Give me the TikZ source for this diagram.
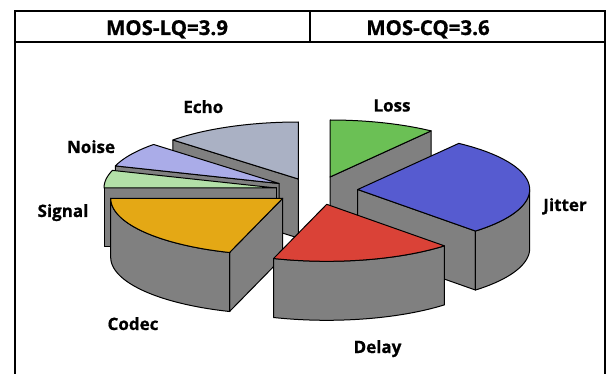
\documentclass[tikz,border=0pt]{standalone}
\usepackage{fontspec}
\setmainfont[BoldFeatures={FakeBold=0.8}]{Open Sans}
\definecolor{sidegray}{HTML}{808080}
\definecolor{cLoss}{HTML}{6BC055}
\definecolor{cJitter}{HTML}{565BD0}
\definecolor{cDelay}{HTML}{DA4237}
\definecolor{cCodec}{HTML}{E4A815}
\definecolor{cSignal}{HTML}{B3E0A8}
\definecolor{cNoise}{HTML}{AAACE8}
\definecolor{cEcho}{HTML}{AAB1C4}
% pie geometry: x radius, y radius, thickness (all in px)
\def\pieA{172}\def\pieB{57}\def\pieH{59}
% flat side face of a slice along the radius at angle #3 (clockwise from 12 o'clock)
\newcommand{\pieradial}[3]{%
  \filldraw[side] (#1,#2) -- ({#1+\pieA*sin(#3)},{#2-\pieB*cos(#3)})
    -- ({#1+\pieA*sin(#3)},{#2+\pieH-\pieB*cos(#3)}) -- (#1,#2+\pieH) -- cycle;}
% curved outer face between angles #3 and #4
\newcommand{\piecurved}[4]{%
  \filldraw[side] plot[domain=#3:#4,samples=40] ({#1+\pieA*sin(\x)},{#2-\pieB*cos(\x)})
    -- plot[domain=#4:#3,samples=40] ({#1+\pieA*sin(\x)},{#2+\pieH-\pieB*cos(\x)}) -- cycle;}
% coloured top of a slice
\newcommand{\pietop}[5]{%
  \filldraw[topface,fill=#5] (#1,#2) -- plot[domain=#3:#4,samples=40]
    ({#1+\pieA*sin(\x)},{#2-\pieB*cos(\x)}) -- cycle;}
\begin{document}
\begin{tikzpicture}[x=1pt,y=-1pt,
  side/.style={fill=sidegray,draw=black,line width=1pt,line join=round},
  topface/.style={draw=black,line width=1pt,line join=round},
  lbl/.style={font=\bfseries\fontsize{17}{17}\selectfont,anchor=base,inner sep=0pt},
  hdr/.style={font=\bfseries\fontsize{20.5}{20.5}\selectfont,anchor=base,inner sep=0pt},
  frameline/.style={line width=1.4pt}]
\useasboundingbox (0,0) rectangle (608,374);
\fill[white] (0,0) rectangle (608,374);

% table frame and header row
\draw[frameline] (15,374) -- (15,11) -- (605,11) -- (605,374);
\draw[line width=1.8pt] (15,42) -- (605,42);
\draw[frameline] (310,11) -- (310,42);
\node[hdr] (hdrLQ) at (167,35) {MOS-LQ=3.9};
\node[hdr] (hdrCQ) at (428,35) {MOS-CQ=3.6};

% exploded 3D pie, back slices first
% Loss 0-36
\pieradial{330}{177}{36}
\pietop{330}{177}{0}{36}{cLoss}
% Echo 313.2-360
\pieradial{298.3}{179}{313.2}
\pietop{298.3}{179}{313.2}{360}{cEcho}
% Noise 288-313.2
\pieradial{279}{183.5}{288}
\pietop{279}{183.5}{288}{313.2}{cNoise}
% Signal 270-288
\pieradial{276}{188}{270}
\pietop{276}{188}{270}{288}{cSignal}
% Jitter 36-136.8
\pieradial{357.7}{189.5}{136.8}
\piecurved{357.7}{189.5}{90}{136.8}
\pietop{357.7}{189.5}{36}{136.8}{cJitter}
% Codec 198-270
\pieradial{282.7}{198.3}{198}
\piecurved{282.7}{198.3}{198}{270}
\pietop{282.7}{198.3}{198}{270}{cCodec}
% Delay 136.8-198
\piecurved{326.7}{204.3}{136.8}{198}
\pietop{326.7}{204.3}{136.8}{198}{cDelay}

% slice labels
\node[lbl] (lblLoss) at (392,111.5) {Loss};
\node[lbl] (lblJitter) at (565,211) {Jitter};
\node[lbl] (lblDelay) at (377.5,353) {Delay};
\node[lbl] (lblCodec) at (133,330) {Codec};
\node[lbl] (lblSignal) at (63,217) {Signal};
\node[lbl] (lblNoise) at (91,153) {Noise};
\node[lbl] (lblEcho) at (203.3,113) {Echo};
\end{tikzpicture}
\end{document}
